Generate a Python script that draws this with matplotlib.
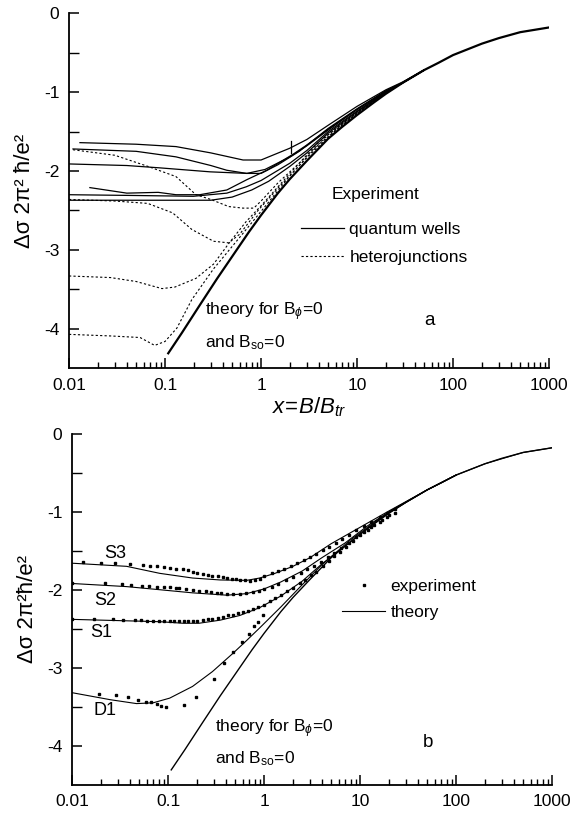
import numpy as np
import matplotlib
matplotlib.use("Agg")
import matplotlib.pyplot as plt
from matplotlib.ticker import LogLocator, FixedLocator, NullFormatter, FixedFormatter

plt.rcParams['font.family'] = ['Liberation Sans', 'DejaVu Sans']
plt.rcParams['mathtext.fontset'] = 'custom'
plt.rcParams['mathtext.rm'] = 'Liberation Sans'
plt.rcParams['mathtext.it'] = 'Liberation Sans:italic'
plt.rcParams['axes.unicode_minus'] = False

# ---- theory for B_phi=0, B_so=0 (both panels)
th_x = [0.108, 0.15, 0.23, 0.35, 0.55, 0.75, 1.0, 1.5, 2, 3, 5, 7, 10, 15, 20, 30, 50, 70, 100, 200, 300, 500, 1000]
th_y = [-4.31, -4.05, -3.70, -3.36, -3.01, -2.77, -2.56, -2.28, -2.10, -1.87, -1.59, -1.44, -1.29, -1.13, -1.02, -0.88, -0.72, -0.63, -0.53, -0.385, -0.315, -0.24, -0.18]

# ---- panel a: quantum wells (solid)
qwA_x = [0.013, 0.05, 0.13, 0.3, 0.65, 1.0, 2.0, 3, 5, 10, 20, 30, 50]
qwA_y = [-1.64, -1.66, -1.69, -1.77, -1.86, -1.86, -1.71, -1.60, -1.42, -1.18, -0.97, -0.87, -0.72]
qwB_x = [0.011, 0.05, 0.13, 0.3, 0.44, 0.71, 1.0, 1.5, 2.5, 5, 10, 20, 30, 50]
qwB_y = [-1.72, -1.75, -1.82, -1.93, -1.99, -2.03, -2.03, -1.92, -1.75, -1.46, -1.21, -0.98, -0.88, -0.72]
qwC_x = [0.01, 0.04, 0.089, 0.295, 0.71, 1.1, 2, 3, 5, 10, 20, 30, 50]
qwC_y = [-1.91, -1.93, -1.96, -2.01, -2.03, -1.98, -1.82, -1.68, -1.48, -1.22, -0.99, -0.88, -0.72]
qwD_x = [0.0165, 0.04, 0.085, 0.13, 0.23, 0.44, 0.71, 1.15, 2.2, 3, 5, 10, 20, 30, 50]
qwD_y = [-2.21, -2.28, -2.27, -2.30, -2.30, -2.24, -2.11, -1.99, -1.78, -1.67, -1.47, -1.22, -0.99, -0.88, -0.72]
qwE_x = [0.01, 0.05, 0.197, 0.44, 0.7, 1.0, 2, 3, 5, 10, 20, 30, 50]
qwE_y = [-2.30, -2.31, -2.32, -2.28, -2.20, -2.12, -1.90, -1.74, -1.50, -1.24, -1.00, -0.88, -0.72]
qwF_x = [0.01, 0.05, 0.3, 0.5, 0.8, 1.2, 2, 3, 5, 10, 20, 30, 50]
qwF_y = [-2.37, -2.37, -2.37, -2.33, -2.24, -2.13, -1.94, -1.77, -1.52, -1.25, -1.00, -0.88, -0.72]
mark_x = [2.05, 2.05]
mark_y = [-1.62, -1.77]

# ---- panel a: heterojunctions (dotted)
hjA_x = [0.011, 0.03, 0.066, 0.13, 0.21, 0.3, 0.46, 0.65, 0.84, 1.0, 1.5, 2.5, 5, 10, 20, 30, 50]
hjA_y = [-1.73, -1.80, -1.94, -2.07, -2.30, -2.36, -2.45, -2.47, -2.47, -2.38, -2.15, -1.90, -1.54, -1.26, -1.01, -0.88, -0.72]
hjB_x = [0.01, 0.03, 0.066, 0.12, 0.19, 0.32, 0.46, 0.6, 0.93, 1.6, 3, 6, 12, 20, 30, 50]
hjB_y = [-2.36, -2.38, -2.41, -2.53, -2.74, -2.89, -2.91, -2.80, -2.50, -2.18, -1.83, -1.48, -1.20, -1.01, -0.88, -0.72]
hjC_x = [0.01, 0.027, 0.05, 0.093, 0.127, 0.21, 0.32, 0.46, 0.7, 1.0, 2, 4, 8, 15, 30, 50]
hjC_y = [-3.33, -3.35, -3.40, -3.49, -3.47, -3.36, -3.18, -2.92, -2.64, -2.44, -2.03, -1.63, -1.35, -1.10, -0.88, -0.72]
hjD_x = [0.01, 0.027, 0.055, 0.078, 0.1, 0.133, 0.19, 0.32, 0.6, 1.1, 2, 4, 8, 15, 30, 50]
hjD_y = [-4.07, -4.09, -4.11, -4.21, -4.16, -3.99, -3.63, -3.24, -2.84, -2.45, -2.06, -1.66, -1.36, -1.11, -0.88, -0.72]

# ---- panel b: experiment (dots)
s3_x = [0.013, 0.02, 0.028, 0.04, 0.055, 0.065, 0.076, 0.09, 0.104, 0.12, 0.144, 0.16, 0.18, 0.2, 0.23, 0.26, 0.29, 0.33,
        0.37, 0.41, 0.46, 0.51, 0.56, 0.63, 0.71, 0.8, 0.9, 1.0, 1.2, 1.4, 1.6, 1.9, 2.2, 2.6, 3.0, 3.5, 4.1, 4.8, 5.6,
        6.5, 7.6, 9, 11, 13, 16, 19, 23]
s3_y = [-1.65, -1.66, -1.66, -1.67, -1.68, -1.69, -1.70, -1.71, -1.72, -1.73, -1.74, -1.75, -1.77, -1.78, -1.80, -1.81,
        -1.82, -1.83, -1.84, -1.85, -1.86, -1.865, -1.87, -1.88, -1.89, -1.88, -1.86, -1.83, -1.79, -1.76, -1.73, -1.69,
        -1.66, -1.62, -1.58, -1.54, -1.49, -1.45, -1.40, -1.35, -1.30, -1.24, -1.18, -1.13, -1.07, -1.02, -0.97]
s2_x = [0.01, 0.022, 0.033, 0.041, 0.053, 0.064, 0.076, 0.09, 0.104, 0.12, 0.13, 0.155, 0.18, 0.21, 0.25, 0.28, 0.32,
        0.36, 0.41, 0.48, 0.56, 0.65, 0.76, 0.88, 1.0, 1.2, 1.4, 1.7, 2.0, 2.4, 2.8, 3.3, 3.9, 4.6, 5.4, 6.4, 7.6, 9,
        11, 13, 16, 19, 23]
s2_y = [-1.91, -1.92, -1.93, -1.94, -1.95, -1.95, -1.96, -1.965, -1.97, -1.975, -1.98, -1.99, -2.00, -2.01, -2.02, -2.03,
        -2.04, -2.045, -2.05, -2.05, -2.05, -2.045, -2.03, -2.01, -1.99, -1.96, -1.93, -1.88, -1.84, -1.79, -1.74, -1.69,
        -1.64, -1.58, -1.53, -1.46, -1.40, -1.33, -1.26, -1.20, -1.13, -1.07, -1.01]
s1_x = [0.01, 0.017, 0.027, 0.034, 0.045, 0.052, 0.06, 0.07, 0.08, 0.09, 0.104, 0.115, 0.13, 0.145, 0.16, 0.18, 0.2,
        0.23, 0.26, 0.29, 0.33, 0.37, 0.42, 0.47, 0.53, 0.6, 0.68, 0.77, 0.87, 1.0, 1.15, 1.3, 1.5, 1.75, 2.0, 2.35,
        2.7, 3.1, 3.5, 4.1, 4.7, 5.3, 6.2, 7.2, 8.5, 10, 12, 14, 17, 20]
s1_y = [-2.38, -2.38, -2.38, -2.39, -2.39, -2.39, -2.40, -2.40, -2.40, -2.40, -2.40, -2.40, -2.40, -2.40, -2.40, -2.40,
        -2.395, -2.39, -2.38, -2.37, -2.36, -2.35, -2.33, -2.32, -2.30, -2.29, -2.27, -2.25, -2.22, -2.19, -2.15, -2.11,
        -2.07, -2.02, -1.98, -1.92, -1.87, -1.81, -1.77, -1.69, -1.63, -1.57, -1.51, -1.45, -1.37, -1.30, -1.23, -1.17,
        -1.10, -1.04]
d1_x = [0.019, 0.029, 0.038, 0.049, 0.059, 0.067, 0.076, 0.085, 0.096, 0.146, 0.197, 0.3, 0.38, 0.48, 0.59, 0.69,
        0.79, 0.87, 0.98]
d1_y = [-3.34, -3.35, -3.37, -3.41, -3.44, -3.44, -3.47, -3.49, -3.50, -3.48, -3.38, -3.14, -2.94, -2.80, -2.67, -2.57,
        -2.46, -2.41, -2.32]

# ---- panel b: theory fits (solid)
f3_x = [0.01, 0.037, 0.082, 0.18, 0.35, 0.66, 0.9, 1.3, 2, 3, 5, 10, 20, 50, 100, 200, 500, 1000]
f3_y = [-1.66, -1.70, -1.79, -1.85, -1.875, -1.88, -1.85, -1.79, -1.70, -1.59, -1.41, -1.20, -0.99, -0.72, -0.53, -0.385, -0.24, -0.18]
f2_x = [0.01, 0.037, 0.082, 0.18, 0.41, 0.66, 1.0, 1.5, 2.5, 4, 7, 12, 20, 50, 100]
f2_y = [-1.92, -1.96, -2.00, -2.04, -2.07, -2.05, -1.99, -1.90, -1.76, -1.59, -1.40, -1.18, -1.00, -0.72, -0.53]
f1_x = [0.01, 0.082, 0.144, 0.21, 0.35, 0.56, 0.9, 1.5, 2.5, 4, 7, 12, 20, 50, 100]
f1_y = [-2.38, -2.41, -2.43, -2.43, -2.39, -2.33, -2.23, -2.08, -1.89, -1.67, -1.44, -1.21, -1.01, -0.72, -0.53]
fd_x = [0.01, 0.025, 0.047, 0.07, 0.104, 0.18, 0.29, 0.47, 0.66, 0.9, 1.5, 2.35, 4, 7.8, 15, 30, 50, 100]
fd_y = [-3.32, -3.41, -3.46, -3.45, -3.39, -3.24, -3.05, -2.82, -2.65, -2.49, -2.22, -1.97, -1.68, -1.37, -1.11, -0.88, -0.72, -0.53]

xticks = [0.01, 0.1, 1, 10, 100, 1000]
xtick_labels = ['0.01', '0.1', '1', '10', '100', '1000']
yticks = [0, -1, -2, -3, -4]


def style_axes(ax, ylabel):
    ax.set_xscale('log')
    ax.set_xlim(0.01, 1000)
    ax.set_ylim(-4.5, 0)
    ax.spines['top'].set_visible(False)
    ax.spines['right'].set_visible(False)
    ax.spines['left'].set_linewidth(1.3)
    ax.spines['bottom'].set_linewidth(1.3)
    ax.xaxis.set_major_locator(FixedLocator(xticks))
    ax.xaxis.set_major_formatter(FixedFormatter(xtick_labels))
    ax.xaxis.set_minor_locator(LogLocator(base=10, subs=np.arange(2, 10)))
    ax.xaxis.set_minor_formatter(NullFormatter())
    ax.yaxis.set_major_locator(FixedLocator(yticks))
    ax.yaxis.set_minor_locator(FixedLocator([-0.5, -1.5, -2.5, -3.5]))
    ax.tick_params(which='major', direction='in', length=7, width=1.1, labelsize=12.5, pad=7)
    ax.tick_params(which='minor', direction='in', length=4, width=1.0)
    ax.tick_params(axis='y', which='minor', length=7)
    ax.set_ylabel(ylabel, fontsize=16, labelpad=6)


fig = plt.figure(figsize=(5.77, 8.13), dpi=100)
ax1 = fig.add_axes([0.1196, 0.547, 0.832, 0.4367])
ax2 = fig.add_axes([0.1248, 0.0348, 0.832, 0.4317])

# panel a
ax1.plot(th_x, th_y, color='black', lw=1.6)
qw_handle = None
for xs, ys in [(qwA_x, qwA_y), (qwB_x, qwB_y), (qwC_x, qwC_y), (qwD_x, qwD_y), (qwE_x, qwE_y), (qwF_x, qwF_y),
               (mark_x, mark_y)]:
    qw_handle, = ax1.plot(xs, ys, color='black', lw=0.9)
hj_handle = None
for xs, ys in [(hjA_x, hjA_y), (hjB_x, hjB_y), (hjC_x, hjC_y), (hjD_x, hjD_y)]:
    hj_handle, = ax1.plot(xs, ys, color='black', lw=0.8, ls=(0, (2, 2)))
style_axes(ax1, 'Δσ 2π² ħ/e²')
ax1.set_xlabel(r'$x\!=\!B/B_{tr}$', fontsize=16, labelpad=2)
ax1.legend([qw_handle, hj_handle], ['quantum wells', 'heterojunctions'],
           loc='upper left', bbox_to_anchor=(0.45, 0.457), frameon=False, fontsize=12.5,
           handlelength=2.5, handletextpad=0.3, labelspacing=0.75)
ax1.text(5.5, -2.30, 'Experiment', fontsize=12.5, va='center')
ax1.text(0.26, -3.78, r'theory for B$_{\phi}$=0', fontsize=12.5, va='center')
ax1.text(0.26, -4.18, r'and B$_{\mathrm{so}}$=0', fontsize=12.5, va='center')
ax1.text(57, -3.90, 'a', fontsize=13.5, ha='center', va='center')

# panel b
ax2.plot(th_x, th_y, color='black', lw=1.0)
fit_handle = None
for xs, ys in [(f3_x, f3_y), (f2_x, f2_y), (f1_x, f1_y), (fd_x, fd_y)]:
    fit_handle, = ax2.plot(xs, ys, color='black', lw=0.8)
dot_handle = None
for xs, ys in [(s3_x, s3_y), (s2_x, s2_y), (s1_x, s1_y), (d1_x, d1_y)]:
    dot_handle, = ax2.plot(xs, ys, ls='none', marker='s', ms=2.0, color='black')
style_axes(ax2, 'Δσ 2π²ħ/e²')
ax2.legend([dot_handle, fit_handle], ['experiment', 'theory'], loc='upper left',
           bbox_to_anchor=(0.53, 0.63), frameon=False, fontsize=12.5, numpoints=1,
           handlelength=2.5, handletextpad=0.3, labelspacing=0.6)
ax2.text(0.028, -1.53, 'S3', fontsize=13, ha='center', va='center')
ax2.text(0.022, -2.14, 'S2', fontsize=13, ha='center', va='center')
ax2.text(0.020, -2.55, 'S1', fontsize=13, ha='center', va='center')
ax2.text(0.022, -3.55, 'D1', fontsize=13, ha='center', va='center')
ax2.text(0.31, -3.78, r'theory for B$_{\phi}$=0', fontsize=12.5, va='center')
ax2.text(0.31, -4.17, r'and B$_{\mathrm{so}}$=0', fontsize=12.5, va='center')
ax2.text(51, -3.96, 'b', fontsize=13.5, ha='center', va='center')

fig.savefig('out.png', dpi=100)
